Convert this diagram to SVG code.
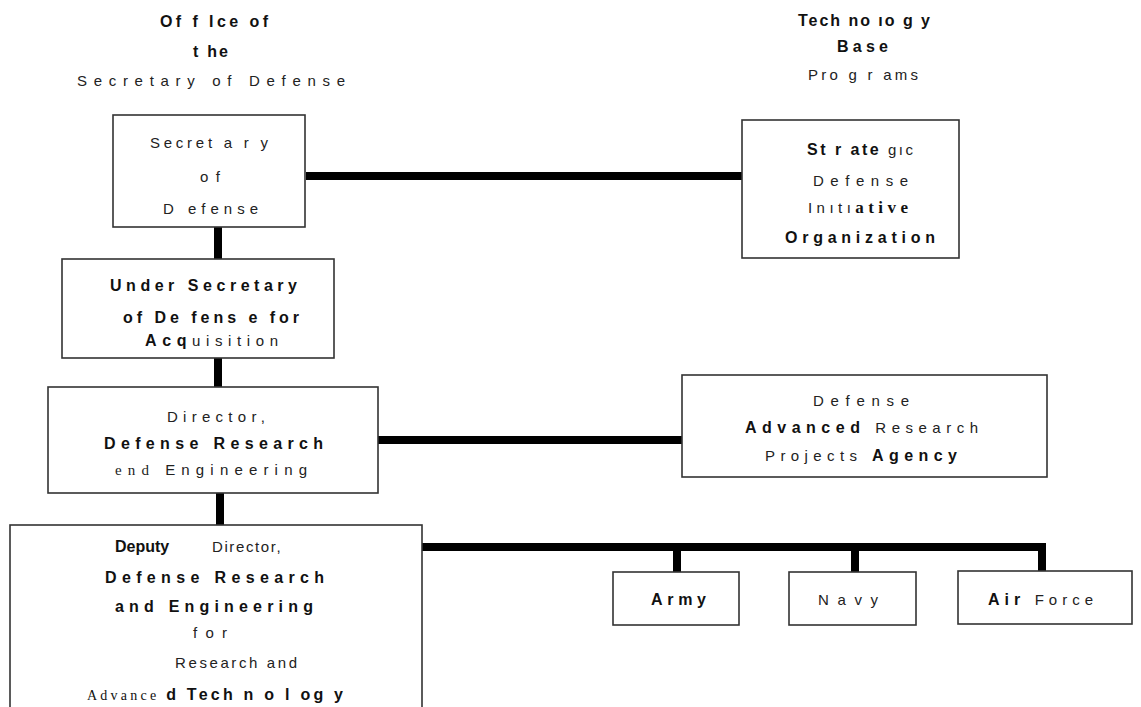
<svg xmlns="http://www.w3.org/2000/svg" width="1141" height="707" viewBox="0 0 1141 707">
<style>
text{font-family:"Liberation Sans",Arial,sans-serif;fill:#111;}
.b{font-weight:bold;font-size:16px;}
.r{font-weight:normal;font-size:15px;fill:#222;}
.s{font-family:"Liberation Serif","Times New Roman",serif;}
.box{fill:#fff;stroke:#333;stroke-width:1.6;}
.con{stroke:#000;stroke-width:8;fill:none;}
</style>
<rect width="1141" height="707" fill="#fff"/>
<g id="connectors">
<line class="con" x1="218" y1="227" x2="218" y2="259"/>
<line class="con" x1="306" y1="176" x2="742" y2="176"/>
<line class="con" x1="218" y1="358" x2="218" y2="388"/>
<line class="con" x1="378" y1="440" x2="682" y2="440"/>
<line class="con" x1="220" y1="493" x2="220" y2="526"/>
<polyline class="con" points="422,547 1042,547 1042,572"/>
<line class="con" x1="677" y1="547" x2="677" y2="572"/>
<line class="con" x1="855" y1="547" x2="855" y2="572"/>
</g>
<g id="header-osd">
<text class="b" x="160" y="27" textLength="108" lengthAdjust="spacing">Of f Ice of</text>
<text class="b" x="193" y="57" textLength="35" lengthAdjust="spacing">t he</text>
<text class="r" x="77" y="86" textLength="268" lengthAdjust="spacing">Secretary   of  Defense</text>
</g>
<g id="header-tech">
<text class="b" x="798" y="26" textLength="132" lengthAdjust="spacing">Tech no ıo g y</text>
<text class="b" x="837" y="52" textLength="51" lengthAdjust="spacing">B a s e</text>
<text class="r" x="808" y="80" textLength="110" lengthAdjust="spacing">Pro g r ams</text>
</g>
<g id="secdef">
<rect class="box" x="113" y="115" width="192" height="112"/>
<text class="r" x="150" y="148" textLength="118" lengthAdjust="spacing">Secret a r y</text>
<text class="r" x="200" y="182" textLength="20" lengthAdjust="spacing">of</text>
<text class="r" x="163" y="214" textLength="95" lengthAdjust="spacing">D  efense</text>
</g>
<g id="sdio">
<rect class="box" x="742" y="120" width="217" height="138"/>
<text x="807" y="155" textLength="106" lengthAdjust="spacing"><tspan class="b">St r ate </tspan><tspan class="r">gıc</tspan></text>
<text class="r" x="813" y="186" textLength="95" lengthAdjust="spacing">Defense</text>
<text x="808" y="213" textLength="100" lengthAdjust="spacing"><tspan class="r">Inıtı</tspan><tspan font-family="Liberation Serif, Times New Roman, serif" font-weight="bold" font-size="17">ative</tspan></text>
<text class="b" x="785" y="243" textLength="150" lengthAdjust="spacing">Organization</text>
</g>
<g id="usda">
<rect class="box" x="62" y="259" width="272" height="99"/>
<text class="b" x="110" y="291" textLength="187" lengthAdjust="spacing">Under  Secretary</text>
<text class="b" x="123" y="323" textLength="176" lengthAdjust="spacing">of De fens e for</text>
<text x="145" y="346" textLength="133" lengthAdjust="spacing"><tspan class="b">Acq</tspan><tspan class="r">uisition</tspan></text>
</g>
<g id="ddre">
<rect class="box" x="48" y="387" width="330" height="106"/>
<text class="r" x="167" y="422" textLength="98" lengthAdjust="spacing">Director,</text>
<text class="b" x="104" y="449" textLength="219" lengthAdjust="spacing">Defense   Research</text>
<text x="115" y="475" textLength="192" lengthAdjust="spacing"><tspan class="r s">end </tspan><tspan class="r">Engineering</tspan></text>
</g>
<g id="darpa">
<rect class="box" x="682" y="375" width="365" height="102"/>
<text class="r" x="813" y="406" textLength="96" lengthAdjust="spacing">Defense</text>
<text x="745" y="433" textLength="233" lengthAdjust="spacing"><tspan class="b">Advanced </tspan><tspan class="r">Research</tspan></text>
<text x="765" y="461" textLength="192" lengthAdjust="spacing"><tspan class="r">Projects </tspan><tspan class="b">Agency</tspan></text>
</g>
<g id="deputy">
<rect class="box" x="10" y="525" width="412" height="200"/>
<text x="115" y="552"><tspan class="b" font-size="18">Deputy</tspan><tspan class="r" x="212" font-size="16" letter-spacing="1.6">Director,</tspan></text>
<text class="b" x="105" y="583" textLength="219" lengthAdjust="spacing">Defense   Research</text>
<text class="b" x="115" y="612" textLength="198" lengthAdjust="spacing">and  Engineering</text>
<text class="r" x="193" y="638" textLength="34" lengthAdjust="spacing">for</text>
<text class="r" x="175" y="668" textLength="122" lengthAdjust="spacing">Research  and</text>
<text x="87" y="700" textLength="256" lengthAdjust="spacing"><tspan class="s" font-size="14">Advance </tspan><tspan class="b" font-size="17">d Tech n o l og y</tspan></text>
</g>
<g id="army">
<rect class="box" x="613" y="572" width="126" height="53"/>
<text class="b" x="651" y="605" textLength="55" lengthAdjust="spacing">Army</text>
</g>
<g id="navy">
<rect class="box" x="789" y="572" width="127" height="53"/>
<text class="r" x="818" y="605" textLength="60" lengthAdjust="spacing">Navy</text>
</g>
<g id="airforce">
<rect class="box" x="958" y="571" width="174" height="53"/>
<text x="988" y="605" textLength="105" lengthAdjust="spacing"><tspan class="b">Air </tspan><tspan class="r">Force</tspan></text>
</g>
</svg>
